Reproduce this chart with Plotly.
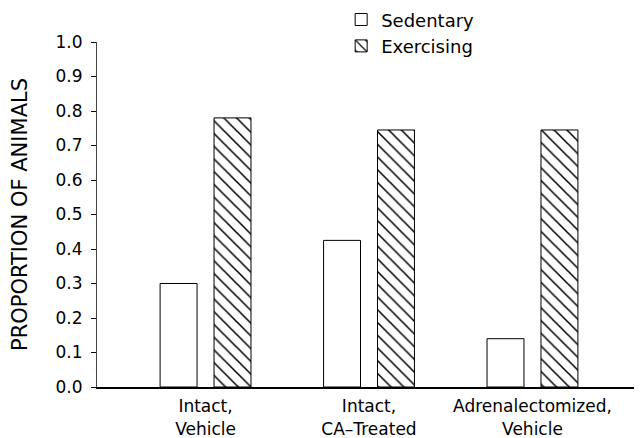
import plotly.graph_objects as go

categories = ["Intact,<br>Vehicle", "Intact,<br>CA\u2013Treated", "Adrenalectomized,<br>Vehicle"]
sedentary = [0.30, 0.425, 0.14]
exercising = [0.78, 0.745, 0.745]
y_ticks = [0.0, 0.1, 0.2, 0.3, 0.4, 0.5, 0.6, 0.7, 0.8, 0.9, 1.0]
y_ticktext = [f"{v:.1f}" for v in y_ticks]

FONT = "DejaVu Sans"

fig = go.Figure()
fig.add_trace(go.Bar(
    name="Sedentary", x=categories, y=sedentary,
    width=0.226, offset=-0.278,
    marker=dict(color="white", line=dict(color="black", width=1)),
))
fig.add_trace(go.Bar(
    name="Exercising", x=categories, y=exercising,
    width=0.226, offset=0.052,
    marker=dict(color="white", line=dict(color="black", width=1),
                pattern=dict(shape="\\", fgcolor="black", bgcolor="white",
                             fgopacity=1, size=9, solidity=0.17)),
))

# page body has an 8px default margin, so the figure is 8px smaller
fig.update_layout(
    width=634, height=430,
    margin=dict(l=89, r=0, t=34, b=51, autoexpand=False),
    paper_bgcolor="white", plot_bgcolor="white",
    barmode="overlay",
    font=dict(family=FONT, color="black"),
    showlegend=True,
    legend=dict(x=0.448, y=1.118, xanchor="left", yanchor="top",
                font=dict(size=18, family=FONT), tracegroupgap=0,
                bgcolor="rgba(0,0,0,0)"),
    xaxis=dict(
        type="category", range=[-0.664, 2.67],
        showline=True, linecolor="black", linewidth=2,
        ticks="", showgrid=False, zeroline=False,
        tickfont=dict(size=17, family=FONT),
        ticklabelstandoff=3,
    ),
    yaxis=dict(
        range=[0, 1.0], tickvals=y_ticks, ticktext=y_ticktext,
        showline=True, linecolor="#444", linewidth=1,
        ticks="outside", ticklen=5, tickcolor="black", tickwidth=1,
        showgrid=False, zeroline=False,
        tickfont=dict(size=17, family=FONT),
        ticklabelstandoff=5,
        title=dict(text="PROPORTION OF ANIMALS", font=dict(size=21, family=FONT), standoff=22),
    ),
    yaxis2=dict(
        range=[0, 1.0], tickvals=y_ticks, overlaying="y", side="left",
        ticks="inside", ticklen=4, tickcolor="black", tickwidth=1,
        showticklabels=False, showline=False, showgrid=False, zeroline=False,
    ),
)

fig.write_html("out.html")
